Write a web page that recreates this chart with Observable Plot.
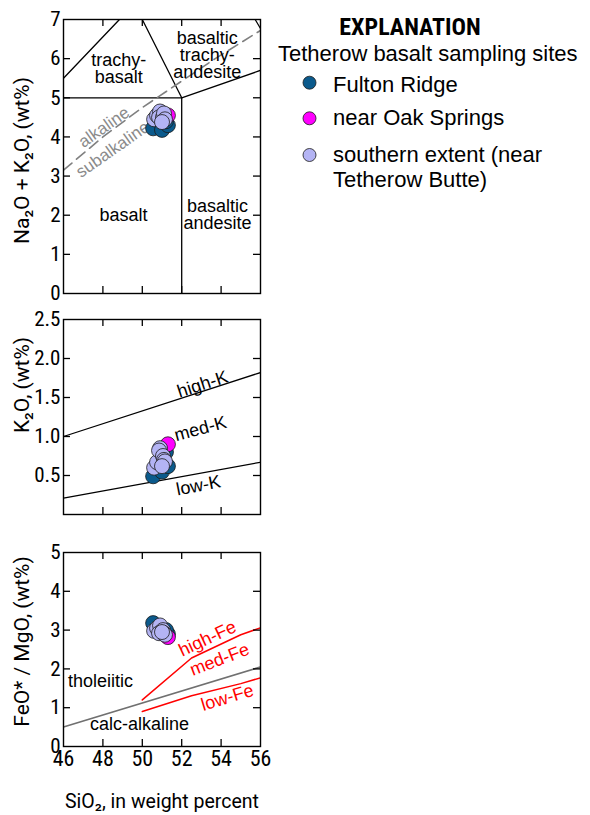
<!DOCTYPE html>
<html>
<head>
<meta charset="utf-8">
<script src="https://cdn.jsdelivr.net/npm/d3@7"></script>
<script src="https://cdn.jsdelivr.net/npm/@observablehq/plot@0.6"></script>
<style>
  html, body { margin: 0; padding: 0; background: #fff; }
  body { width: 590px; height: 815px; position: relative; overflow: hidden; font-family: "Liberation Sans", Arial, sans-serif; }
  .panel { position: absolute; left: 0; }
  #legend { position: absolute; left: 270px; top: 0; }
</style>
</head>
<body>
<div id="p1" class="panel" style="top:0px"></div>
<div id="p2" class="panel" style="top:300px"></div>
<div id="p3" class="panel" style="top:520px"></div>
<div id="legend"></div>
<script>
// ---------------- DATA ----------------
const groups = ["Fulton Ridge", "near Oak Springs", "southern extent (near Tetherow Butte)"];
const groupColors = ["#0b5a8c", "#ff00ff", "#b4b4f4"];
const legendLines = [["Fulton Ridge"], ["near Oak Springs"], ["southern extent (near", "Tetherow Butte)"]];

// samples (drawing order: Fulton Ridge, Oak Springs, southern extent)
const site   = ["Fulton Ridge","Fulton Ridge","Fulton Ridge","Fulton Ridge","near Oak Springs",
                "southern extent (near Tetherow Butte)","southern extent (near Tetherow Butte)","southern extent (near Tetherow Butte)","southern extent (near Tetherow Butte)",
                "southern extent (near Tetherow Butte)","southern extent (near Tetherow Butte)","southern extent (near Tetherow Butte)","southern extent (near Tetherow Butte)"];
const sio2   = [50.55, 51.0, 51.3, 51.2, 51.3, 50.6, 50.75, 50.9, 50.85, 51.05, 51.1, 51.15, 51.0];
const alkali = [4.22, 4.18, 4.30, 4.40, 4.55, 4.45, 4.55, 4.65, 4.50, 4.50, 4.60, 4.45, 4.38];
const k2o    = [0.49, 0.55, 0.62, 0.80, 0.90, 0.60, 0.67, 0.85, 0.82, 0.75, 0.70, 0.68, 0.62];
const feoMgo = [3.18, 2.95, 2.90, 3.00, 2.82, 2.98, 3.05, 3.12, 2.92, 3.00, 2.92, 2.88, 2.95];

// axis ticks
const xTicks = [46, 48, 50, 52, 54, 56];
const tasTicks = [0, 1, 2, 3, 4, 5, 6, 7];
const kTicks = [0.5, 1.0, 1.5, 2.0, 2.5];
const feTicks = [0, 1, 2, 3, 4, 5];

// TAS field boundaries
const basaltTop = [[45, 5], [52, 5]];
const basaltAndesiteDivide = [[52, 0], [52, 5]];
const trachybasaltLeft = [[46, 5.5], [48.84, 7]];
const trachybasaltRight = [[50, 7], [52, 5]];
const btaLower = [[52, 5], [56, 5.7]];
const btaUpper = [[55.73, 7], [56, 6.77]];
const alkalineDivide = [[46, 3.15], [48, 4.0], [50, 4.75], [53.7, 6.0], [56, 6.72]];
const tasLabels = [
  {text: "trachy-\nbasalt", x: 48.8, y: 5.73},
  {text: "basaltic\ntrachy-\nandesite", x: 53.3, y: 6.08},
  {text: "basalt", x: 49.05, y: 1.99},
  {text: "basaltic\nandesite", x: 53.82, y: 2.01}
];
const alkLabels = [
  {text: "alkaline", x: 48.05, y: 4.25},
  {text: "subalkaline", x: 48.5, y: 3.68}
];

// K2O boundaries
const highKLine = [[46, 1.0], [56, 1.82]];
const lowKLine = [[46, 0.21], [56, 0.67]];
const kLabels = [
  {text: "high-K", x: 53.06, y: 1.67, angle: -18},
  {text: "med-K", x: 52.95, y: 1.10, angle: -15},
  {text: "low-K", x: 52.85, y: 0.37, angle: -11}
];

// FeO*/MgO boundaries
const thCaLine = [[46, 0.5], [56, 2.05]];
const highFeLine = [[50, 1.2], [52.5, 2.28], [55, 2.88], [56, 3.06]];
const lowFeLine = [[50, 0.9], [52.5, 1.31], [55, 1.62], [56, 1.77]];
const feLabels = [
  {text: "high-Fe", x: 53.31, y: 2.78, angle: -25},
  {text: "med-Fe", x: 53.92, y: 2.24, angle: -21},
  {text: "low-Fe", x: 54.32, y: 1.26, angle: -17}
];
const seriesLabels = [
  {text: "tholeiitic", x: 47.88, y: 1.68},
  {text: "calc-alkaline", x: 49.86, y: 0.57}
];

// ---------------- DRAWING ----------------
const COND = '"Roboto Condensed","Liberation Sans Narrow","Arial Narrow",sans-serif';
const ROBO = 'Roboto,"Liberation Sans",Arial,sans-serif';
const SANS = '"Liberation Sans",Arial,Helvetica,sans-serif';
const W = 270, ML = 63, MR = 10, TICK = 7;
const innerX = xTicks.slice(1, -1);

function rowsFor(yvals) {
  return sio2.map((x, i) => ({site: site[i], x, y: yvals[i]}));
}
const P = (pts, o) => Plot.line(pts, {x: d => d[0], y: d => d[1], clip: true, ...o});

function panel({el, height, mt, mb, yDomain, yTicks, yFmt, yLabel, yLabelDy, yvals, extra, showX}) {
  const ph = height - mt - mb;
  const innerY = yTicks.filter(t => t > yDomain[0] && t < yDomain[1]);
  const marks = [
    ...extra,
    Plot.dot(rowsFor(yvals), {x: "x", y: "y", fill: "site", r: 7.5, stroke: "#1a1a1a", strokeWidth: 0.8}),
    Plot.tickX(innerX, {x: d => d, insetTop: ph - TICK, stroke: "black", strokeWidth: 1.3}),
    Plot.tickX(innerX, {x: d => d, insetBottom: ph - TICK, stroke: "black", strokeWidth: 1.3}),
    Plot.tickY(innerY, {y: d => d, insetRight: (W - ML - MR) - TICK, stroke: "black", strokeWidth: 1.3}),
    Plot.tickY(innerY, {y: d => d, insetLeft: (W - ML - MR) - TICK, stroke: "black", strokeWidth: 1.3}),
    Plot.frame({stroke: "black", strokeWidth: 1.4}),
    Plot.axisY(yTicks, {tickSize: 0, tickPadding: 3, tickFormat: yFmt, fontSize: 21, fontFamily: COND, label: null}),
    Plot.text([yLabel], {frameAnchor: "left", textAnchor: "middle", lineAnchor: "middle", dx: -41, dy: yLabelDy, rotate: -90, fontSize: 21, fontFamily: ROBO, fill: "black"})
  ];
  if (showX) {
    marks.push(Plot.axisX(xTicks, {tickSize: 0, tickPadding: 4, fontSize: 22, fontFamily: COND, label: null}));
    marks.push(Plot.text(["SiO₂, in weight percent"], {frameAnchor: "bottom", textAnchor: "middle", lineAnchor: "middle", dy: 55, fontSize: 19.5, fontFamily: ROBO, fill: "black"}));
  }
  const chart = Plot.plot({
    width: W, height,
    marginLeft: ML, marginRight: MR, marginTop: mt, marginBottom: mb,
    style: {background: "transparent", color: "black", fontFamily: COND, overflow: "visible"},
    x: {domain: [46, 56], axis: showX ? undefined : null},
    y: {domain: yDomain},
    color: {domain: groups, range: groupColors},
    marks
  });
  document.getElementById(el).appendChild(chart);
}

panel({
  el: "p1", height: 300, mt: 19, mb: 7, yDomain: [0, 7], yTicks: tasTicks, yFmt: d3.format("d"),
  yLabel: "Na₂O + K₂O, (wt%)", yLabelDy: 4, yvals: alkali, showX: false,
  extra: [
    P(basaltTop, {stroke: "black", strokeWidth: 1.3}),
    P(basaltAndesiteDivide, {stroke: "black", strokeWidth: 1.3}),
    P(trachybasaltLeft, {stroke: "black", strokeWidth: 1.3}),
    P(trachybasaltRight, {stroke: "black", strokeWidth: 1.3}),
    P(btaLower, {stroke: "black", strokeWidth: 1.3}),
    P(btaUpper, {stroke: "black", strokeWidth: 1.3}),
    P(alkalineDivide, {stroke: "#808080", strokeWidth: 1.6, strokeDasharray: "11,6"}),
    Plot.text(tasLabels, {x: "x", y: "y", text: "text", fontSize: 18, fontFamily: SANS, fill: "black", lineHeight: 0.95}),
    Plot.text(alkLabels, {x: "x", y: "y", text: "text", rotate: -35, fontSize: 17, fontFamily: SANS, fill: "#8a8a8a"})
  ]
});

panel({
  el: "p2", height: 220, mt: 19, mb: 6, yDomain: [0, 2.5], yTicks: kTicks, yFmt: d3.format(".1f"),
  yLabel: "K₂O, (wt%)", yLabelDy: -32, yvals: k2o, showX: false,
  extra: [
    P(highKLine, {stroke: "black", strokeWidth: 1.3}),
    P(lowKLine, {stroke: "black", strokeWidth: 1.3}),
    Plot.text(kLabels, {x: "x", y: "y", text: "text", rotate: d => d.angle, fontSize: 18, fontFamily: SANS, fill: "black"})
  ]
});

panel({
  el: "p3", height: 295, mt: 32, mb: 69, yDomain: [0, 5], yTicks: feTicks, yFmt: d3.format("d"),
  yLabel: "FeO* / MgO, (wt%)", yLabelDy: -8, yvals: feoMgo, showX: true,
  extra: [
    P(thCaLine, {stroke: "#707070", strokeWidth: 1.6}),
    P(highFeLine, {stroke: "#ff0000", strokeWidth: 1.5}),
    P(lowFeLine, {stroke: "#ff0000", strokeWidth: 1.5}),
    Plot.text(feLabels, {x: "x", y: "y", text: "text", rotate: d => d.angle, fontSize: 18, fontFamily: SANS, fill: "#ff0000"}),
    Plot.text(seriesLabels, {x: "x", y: "y", text: "text", fontSize: 18, fontFamily: SANS, fill: "black"})
  ]
});

// ---------------- LEGEND ----------------
const lg = d3.select("#legend").append("svg").attr("width", 320).attr("height", 200);
lg.append("text").attr("x", 140).attr("y", 35).attr("text-anchor", "middle")
  .attr("font-family", COND).attr("font-weight", "bold").attr("font-size", 24).text("EXPLANATION");
lg.append("text").attr("x", 8).attr("y", 61).attr("font-family", SANS).attr("font-size", 22)
  .text("Tetherow basalt sampling sites");
const itemY = [82.7, 118.3, 155];
const baseY = [[92], [125], [162, 187]];
groups.forEach((g, i) => {
  lg.append("circle").attr("cx", 39.5).attr("cy", itemY[i]).attr("r", 6.5)
    .attr("fill", groupColors[i]).attr("stroke", "#1a1a1a").attr("stroke-width", 0.8);
  legendLines[i].forEach((t, j) => {
    lg.append("text").attr("x", 63).attr("y", baseY[i][j]).attr("font-family", SANS)
      .attr("font-size", 22).text(t);
  });
});
</script>
</body>
</html>
